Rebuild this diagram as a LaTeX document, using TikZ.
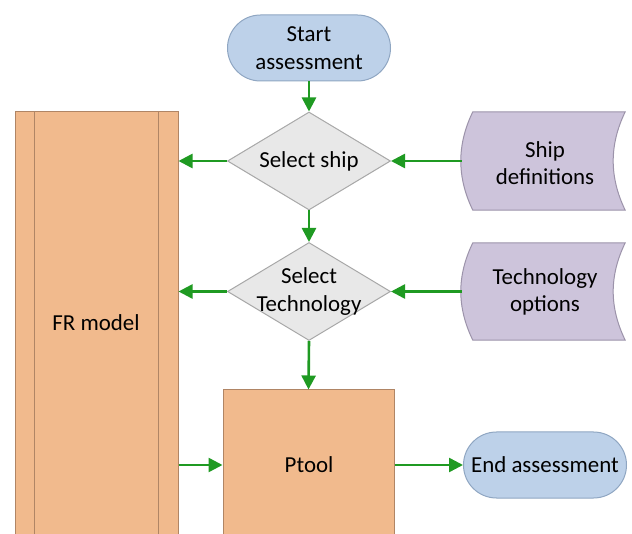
\documentclass[tikz,border=0pt]{standalone}
\usepackage{fontspec}
\setmainfont{Carlito}
\usetikzlibrary{shapes.geometric,shapes.misc,arrows.meta}

\definecolor{termfill}{HTML}{BDD1E9}
\definecolor{termline}{HTML}{8FA6C2}
\definecolor{decfill}{HTML}{E8E8E8}
\definecolor{decline}{HTML}{A8A8A8}
\definecolor{procfill}{HTML}{F1BA8D}
\definecolor{procline}{HTML}{B08565}
\definecolor{datafill}{HTML}{CDC4DB}
\definecolor{dataline}{HTML}{9C93AA}
\definecolor{flowgreen}{HTML}{1F9A22}

% stored-data outline: convex left side, concave right side
\newcommand{\storeddata}[1]{%
  \draw[draw=dataline, fill=datafill, line width=1pt]
    ([xshift=11pt]#1.north west) -- (#1.north east)
    .. controls +(-16,33) and +(-16,-33) .. (#1.south east)
    -- ([xshift=11pt]#1.south west)
    .. controls +(-16,-33) and +(-16,33) .. ([xshift=11pt]#1.north west) -- cycle;}

\begin{document}
\begin{tikzpicture}[x=1pt, y=-1pt,
  txt/.style={font=\fontsize{22.9}{27.5}\selectfont, align=center, text=black, inner sep=0pt},
  terminal/.style={rounded rectangle, draw=termline, fill=termfill, line width=1pt,
    minimum width=163pt, minimum height=66pt, inner sep=0pt, txt},
  decision/.style={diamond, draw=decline, fill=decfill, line width=1pt,
    minimum width=163pt, minimum height=98pt, inner sep=0pt},
  process/.style={rectangle, draw=procline, fill=procfill, line width=1pt, inner sep=0pt},
  databox/.style={rectangle, draw=none, minimum width=163pt, inner sep=0pt},
  flow/.style={draw=flowgreen, line width=2.6pt, -{Triangle[length=14pt,width=14pt]}}]

\useasboundingbox (0,0) rectangle (632,534);

% terminals
\node[terminal] (start) at (309,48) {Start\\assessment};
\node[terminal] (end) at (545,465) {End assessment};

% decisions
\node[decision] (ship) at (309,161) {};
\node[txt] (shipt) at (ship) {Select ship};
\node[decision] (tech) at (309,291.5) {};
\node[txt] (techt) at (tech) {Select\\Technology};

% stored data inputs
\node[databox, minimum height=98pt] (shipdef) at (543.5,161) {};
\storeddata{shipdef}
\node[txt] (shipdeft) at (545,163) {Ship\\definitions};
\node[databox, minimum height=97pt] (techdef) at (543.5,291.5) {};
\storeddata{techdef}
\node[txt] (techdeft) at (545,292) {Technology\\options};

% FR model (predefined process, runs past the page bottom)
\node[process, minimum width=163pt, minimum height=440pt] (fr) at (96.5,332) {};
\draw[draw=procline, line width=1pt]
  ([xshift=20pt]fr.north west) -- ([xshift=20pt]fr.south west)
  ([xshift=-20pt]fr.north east) -- ([xshift=-20pt]fr.south east);
\node[txt] (frt) at (96,323) {FR model};

% Ptool process
\node[process, minimum width=171pt, minimum height=162pt] (ptool) at (308.5,471) {};
\node[txt] (ptoolt) at (309,465) {Ptool};

% connectors
\draw[flow] (start.south) -- (ship.north);
\draw[flow] (ship.south) -- (tech.north);
\draw[flow] (tech.south) -- (ptool.north);
\draw[flow] (shipdef.west) -- (ship.east);
\draw[flow] (techdef.west) -- (tech.east);
\draw[flow] (ship.west) -- (ship.west -| fr.east);
\draw[flow] (tech.west) -- (tech.west -| fr.east);
\draw[flow] (fr.east |- end.west) -- (ptool.west |- end.west);
\draw[flow] (ptool.east |- end.west) -- (end.west);
\end{tikzpicture}
\end{document}
